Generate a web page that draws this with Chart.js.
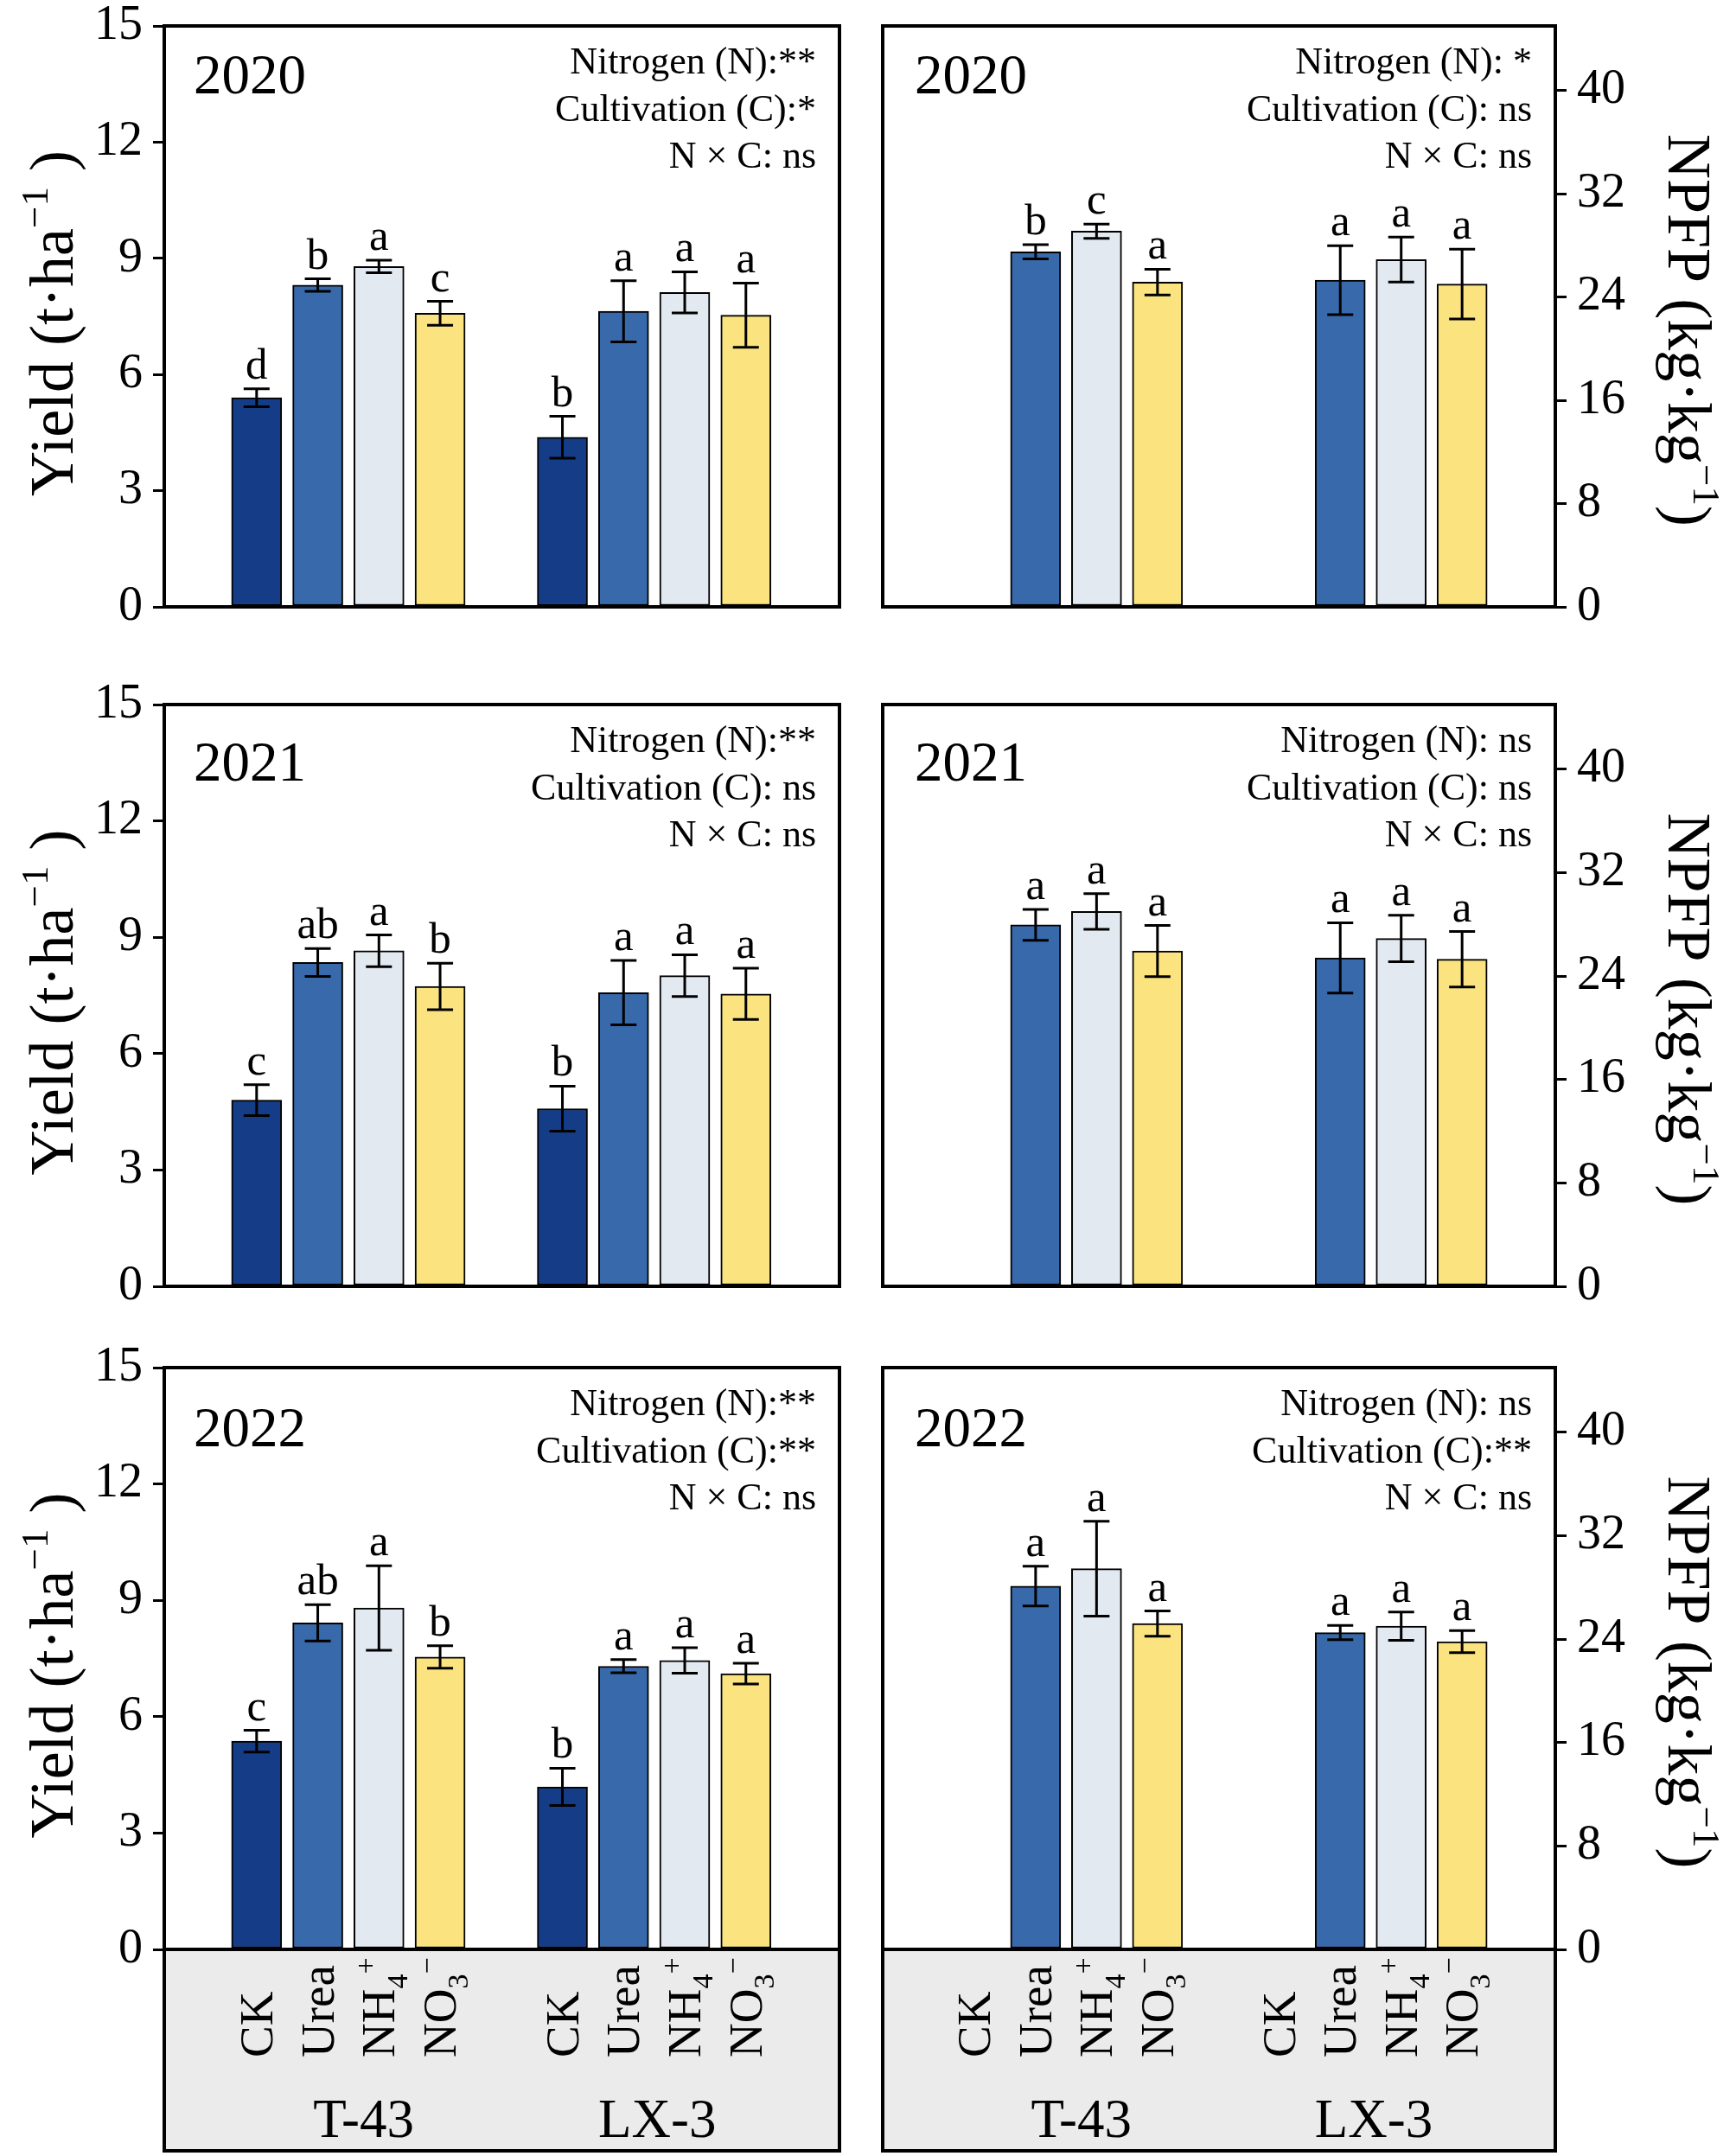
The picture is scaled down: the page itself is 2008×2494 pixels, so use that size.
<!DOCTYPE html>
<html><head><meta charset="utf-8">
<script src="https://cdn.jsdelivr.net/npm/chart.js@4"></script>
<style>
html,body{margin:0;padding:0;background:#fff;}
#wrap{position:relative;width:2008px;height:2494px;overflow:hidden;}
canvas{position:absolute;}
</style></head><body><div id="wrap"></div>
<script>
// ---------------- DATA ----------------
const years = ['2020', '2021', '2022'];
const cultivars = ['T-43', 'LX-3'];
// treatment labels as rich-text parts [text, kind]
const treatmentLabels = [
  [['CK', 'n']],
  [['Urea', 'n']],
  [['NH', 'n'], ['4', 'sub'], ['+', 'sup']],
  [['NO', 'n'], ['3', 'sub'], ['\u2212', 'sup']]
];
const yieldTicks = [0, 3, 6, 9, 12, 15];
const npfpTicks = [0, 8, 16, 24, 32, 40];
const npfpAxisMax = 45;

// Yield (t·ha-1): order T-43 CK, Urea, NH4+, NO3-, LX-3 CK, Urea, NH4+, NO3-
const yield2020 = [5.40, 8.31, 8.79, 7.58, 4.38, 7.63, 8.12, 7.53];
const yieldErr2020 = [0.23, 0.16, 0.16, 0.31, 0.54, 0.79, 0.53, 0.83];
const yieldLet2020 = ['d', 'b', 'a', 'c', 'b', 'a', 'a', 'a'];
const yield2021 = [4.80, 8.35, 8.65, 7.73, 4.58, 7.57, 8.01, 7.54];
const yieldErr2021 = [0.40, 0.36, 0.41, 0.60, 0.58, 0.83, 0.54, 0.66];
const yieldLet2021 = ['c', 'ab', 'a', 'b', 'b', 'a', 'a', 'a'];
const yield2022 = [5.37, 8.42, 8.80, 7.54, 4.19, 7.30, 7.45, 7.11];
const yieldErr2022 = [0.28, 0.47, 1.09, 0.29, 0.48, 0.17, 0.33, 0.27];
const yieldLet2022 = ['c', 'ab', 'a', 'b', 'b', 'a', 'a', 'a'];

// NPFP (kg·kg-1): order T-43 Urea, NH4+, NO3-, LX-3 Urea, NH4+, NO3-
const npfp2020 = [27.5, 29.1, 25.15, 25.3, 26.9, 25.0];
const npfpErr2020 = [0.55, 0.55, 1.0, 2.67, 1.74, 2.7];
const npfpLet2020 = ['b', 'c', 'a', 'a', 'a', 'a'];
const npfp2021 = [27.96, 29.0, 25.93, 25.4, 26.9, 25.3];
const npfpErr2021 = [1.2, 1.38, 1.98, 2.72, 1.8, 2.14];
const npfpLet2021 = ['a', 'a', 'a', 'a', 'a', 'a'];
const npfp2022 = [28.1, 29.45, 25.2, 24.5, 25.0, 23.8];
const npfpErr2022 = [1.53, 3.67, 0.97, 0.55, 1.1, 0.85];
const npfpLet2022 = ['a', 'a', 'a', 'a', 'a', 'a'];

const yieldStats = [
  ['Nitrogen (N):**', 'Cultivation (C):*', 'N \u00d7 C: ns'],
  ['Nitrogen (N):**', 'Cultivation (C): ns', 'N \u00d7 C: ns'],
  ['Nitrogen (N):**', 'Cultivation (C):**', 'N \u00d7 C: ns']
];
const npfpStats = [
  ['Nitrogen (N): *', 'Cultivation (C): ns', 'N \u00d7 C: ns'],
  ['Nitrogen (N): ns', 'Cultivation (C): ns', 'N \u00d7 C: ns'],
  ['Nitrogen (N): ns', 'Cultivation (C):**', 'N \u00d7 C: ns']
];
const yieldTitle = [['Yield (t\u00b7ha', 'n'], ['\u22121', 'sup'], [' )', 'n']];
const npfpTitle = [['NPFP (kg\u00b7kg', 'n'], ['\u22121', 'sup'], [')', 'n']];

// ---------------- STYLE ----------------
const F = '"Liberation Serif", "Times New Roman", serif';
const treatColors = ['#143c87', '#3869aa', '#e2e9f0', '#fbe480'];
const groupLabelShift = [0.25, 0.05];
const rows = [
  { top: 0, h: 760, pt: 30, pb: 58, yearOff: 78 },
  { top: 760, h: 780, pt: 55, pb: 52, yearOff: 88 },
  { top: 1540, h: 954, pt: 42, pb: 239, yearOff: 91 }
];

function drawRich(ctx, parts, x, y, base, align) {
  let w = 0;
  const items = parts.map(([t, k]) => {
    const s = k === 'n' ? base : Math.round(base * 0.62);
    ctx.font = s + 'px ' + F;
    const m = ctx.measureText(t).width;
    w += m;
    return { t, k, s, m };
  });
  let cx = align === 'center' ? x - w / 2 : align === 'right' ? x - w : x;
  ctx.textAlign = 'left';
  for (const it of items) {
    ctx.font = it.s + 'px ' + F;
    const dy = it.k === 'sub' ? base * 0.26 : it.k === 'sup' ? -base * 0.4 : 0;
    ctx.fillText(it.t, cx, y + dy);
    cx += it.m;
  }
}

const panelPlugin = {
  id: 'panel',
  afterDatasetsDraw(chart, args, o) {
    const ctx = chart.ctx, ys = chart.scales.y;
    const meta = chart.getDatasetMeta(0);
    ctx.save();
    ctx.strokeStyle = '#000'; ctx.fillStyle = '#000'; ctx.lineWidth = 3;
    meta.data.forEach((bar, i) => {
      const v = o.values[i], e = o.errs[i];
      const yt = ys.getPixelForValue(v + e), yb = ys.getPixelForValue(v - e);
      const x = bar.x;
      ctx.beginPath();
      ctx.moveTo(x, yt); ctx.lineTo(x, yb);
      ctx.moveTo(x - 15, yt); ctx.lineTo(x + 15, yt);
      ctx.moveTo(x - 15, yb); ctx.lineTo(x + 15, yb);
      ctx.stroke();
      ctx.font = '51px ' + F; ctx.textAlign = 'center'; ctx.textBaseline = 'alphabetic';
      ctx.fillText(o.letters[i], x, yt - 12);
    });
    ctx.restore();
  },
  afterDraw(chart, args, o) {
    const ctx = chart.ctx, a = chart.chartArea, xs = chart.scales.x;
    ctx.save();
    ctx.fillStyle = '#000'; ctx.strokeStyle = '#000';
    ctx.textBaseline = 'alphabetic';
    if (o.bottom) {
      ctx.fillStyle = '#ebebeb';
      ctx.fillRect(a.left, a.bottom, a.right - a.left, 233);
      ctx.lineWidth = 4;
      ctx.strokeRect(a.left, a.bottom, a.right - a.left, 233);
      ctx.fillStyle = '#000';
      cultivars.forEach((cv, g) => {
        treatmentLabels.forEach((parts, c) => {
          const x = xs.getPixelForValue(g * 5 + c);
          ctx.save();
          ctx.translate(x + 18, a.bottom + 125);
          ctx.rotate(-Math.PI / 2);
          drawRich(ctx, parts, 0, 0, 55, 'left');
          ctx.restore();
        });
        ctx.font = '63px ' + F; ctx.textAlign = 'center';
        ctx.fillText(cv, xs.getPixelForValue(g * 5 + 1.5 + groupLabelShift[g]), a.bottom + 217);
      });
    }
    // frame
    ctx.lineWidth = 4;
    ctx.strokeRect(a.left, a.top, a.right - a.left, a.bottom - a.top);
    // year
    ctx.font = '65px ' + F; ctx.textAlign = 'left';
    ctx.fillText(o.year, a.left + (o.right ? 37 : 34), a.top + o.yearOff);
    // stats
    ctx.font = '44px ' + F; ctx.textAlign = 'right';
    o.stats.forEach((s, i) => ctx.fillText(s, a.right - 27, a.top + 55 + i * 54.5));
    // axis title
    const cy = (a.top + a.bottom) / 2;
    ctx.save();
    if (o.right) {
      ctx.translate(930, cy + 16); ctx.rotate(Math.PI / 2);
    } else {
      ctx.translate(84, cy + 8); ctx.rotate(-Math.PI / 2);
    }
    drawRich(ctx, o.title, 0, 0, 72, 'center');
    ctx.restore();
    ctx.restore();
  }
};

function makePanel(row, isRight, values, errs, letters, year, stats) {
  const r = rows[row];
  const cv = document.createElement('canvas');
  const W = isRight ? 1008 : 1000;
  cv.width = W; cv.height = r.h;
  cv.style.left = (isRight ? 1000 : 0) + 'px';
  cv.style.top = r.top + 'px';
  cv.style.width = W + 'px'; cv.style.height = r.h + 'px';
  document.getElementById('wrap').appendChild(cv);
  const nT = isRight ? 3 : 4;
  const slots = values.map((v, i) => {
    const g = Math.floor(i / nT), c = (i % nT) + (isRight ? 1 : 0);
    return g * 5 + c;
  });
  const colors = values.map((v, i) => treatColors[(i % nT) + (isRight ? 1 : 0)]);
  const ticks = isRight ? npfpTicks : yieldTicks;
  new Chart(cv, {
    type: 'bar',
    data: {
      datasets: [{
        data: values.map((v, i) => ({ x: slots[i], y: v })),
        backgroundColor: colors, borderColor: '#000', borderWidth: 2,
        borderSkipped: false, barThickness: 58
      }]
    },
    options: {
      responsive: false, animation: false, devicePixelRatio: 1,
      layout: { padding: { top: r.pt, bottom: r.pb, left: isRight ? 21 : 0, right: isRight ? 0 : 29 } },
      plugins: {
        legend: { display: false }, tooltip: { enabled: false },
        panel: { values, errs, letters, year, stats, right: isRight, bottom: row === 2,
                 yearOff: r.yearOff, title: isRight ? npfpTitle : yieldTitle }
      },
      scales: {
        x: { type: 'linear', display: false, offset: false, min: -1.51, max: 9.53,
             grid: { offset: false } },
        y: {
          position: isRight ? 'right' : 'left',
          min: ticks[0], max: isRight ? npfpAxisMax : ticks[ticks.length - 1],
          ticks: { stepSize: ticks[1] - ticks[0], includeBounds: false, color: '#000', padding: 12,
                   font: { family: F, size: 56, lineHeight: 0.4 } },
          grid: { drawOnChartArea: false, drawTicks: true, tickLength: 13, lineWidth: 3, color: '#000' },
          border: { display: true, width: 4, color: '#000' },
          afterFit: (s) => { s.width = isRight ? 209 : 190; }
        }
      }
    },
    plugins: [panelPlugin]
  });
}

const yieldSets = [[yield2020, yieldErr2020, yieldLet2020], [yield2021, yieldErr2021, yieldLet2021], [yield2022, yieldErr2022, yieldLet2022]];
const npfpSets = [[npfp2020, npfpErr2020, npfpLet2020], [npfp2021, npfpErr2021, npfpLet2021], [npfp2022, npfpErr2022, npfpLet2022]];
years.forEach((yr, k) => {
  makePanel(k, false, yieldSets[k][0], yieldSets[k][1], yieldSets[k][2], yr, yieldStats[k]);
  makePanel(k, true, npfpSets[k][0], npfpSets[k][1], npfpSets[k][2], yr, npfpStats[k]);
});
</script></body></html>
